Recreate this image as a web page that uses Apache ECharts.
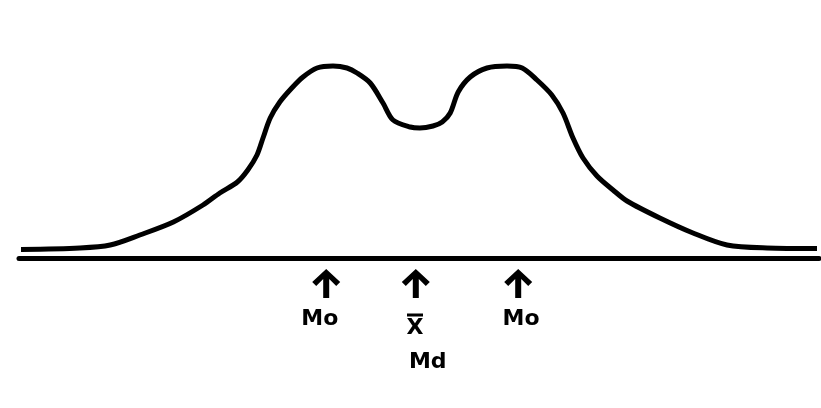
<!DOCTYPE html>
<html>
<head>
    <meta charset="utf-8">
    <title>Bimodal</title>
    <script src="https://cdn.jsdelivr.net/npm/echarts@6/dist/echarts.min.js"></script>
</head>
<style>
    *{
        margin: 0;
        padding: 0;
    }
    #main{
        width: 821px;
        height: 408px;
        background: #fff;
    }
</style>
<body>
<div id="main"></div>
<script>
    // curve: x along the scale, y = height of the curve
    let curveX = [0.25, 7.6, 11.4, 15.1, 19.3, 23, 25.1, 27.3, 28.6, 29.75, 30.5, 31.4, 32.6, 34.1, 35.5, 37.25, 39.25, 41, 42.25,
        43.9, 45.5, 46.75, 48.9, 50.1, 51.75, 52.9, 53.9, 54.9, 56.4, 58.5, 61, 62.9, 64.75, 66.6, 68, 69.25, 70.5,
        72.25, 74.25, 76, 80.1, 84.25, 88.5, 93.5, 99.75];
    let curveY = [4.25, 5, 6.5, 11.5, 18, 26.5, 32.5, 38, 44, 51.5, 60, 70, 78, 85, 90.5, 95, 96, 95, 92.5,
        87.5, 77.5, 69, 65.5, 65, 66, 68, 72.5, 83, 90.5, 95, 96, 95, 89, 81.5, 72.5, 60, 50,
        41, 34, 28.5, 20, 12.5, 6.5, 5, 4.75];

    // arrows under the axis
    let arrowX = [38.4, 49.6, 62.4];
    let arrowY = -12.75;

    // labels under the arrows
    let labelText = ['Mo', 'X', 'Md', 'Mo'];
    let labelX = [37.6, 49.5, 51.1, 62.75];
    let labelY = [-30.5, -35, -52, -30.5];

    // bar over the X
    let barX = [49.5];
    let barY = [-28.5];

    let chart = echarts.init(document.getElementById('main'));

    let arrowPath = 'path://M14 0 L28 13 L24 17 L17 10 L17 29 L11 29 L11 10 L4 17 L0 13 Z';

    let option = {
        backgroundColor: '#ffffff',
        animation: false,
        grid: {
            left: 19,
            right: 2,
            top: 58,
            bottom: 30
        },
        xAxis: {
            type: 'value',
            min: 0,
            max: 100,
            axisLine: {
                show: true,
                onZero: true,
                lineStyle: {color: '#000', width: 5}
            },
            axisTick: {show: false},
            axisLabel: {show: false},
            splitLine: {show: false}
        },
        yAxis: {
            type: 'value',
            min: -60,
            max: 100,
            show: false,
            splitLine: {show: false}
        },
        series: [
            {
                type: 'line',
                data: curveX.map((x, i) => [x, curveY[i]]),
                smooth: 0.3,
                showSymbol: false,
                lineStyle: {color: '#000', width: 5}
            },
            {
                type: 'scatter',
                data: arrowX.map(x => [x, arrowY]),
                symbol: arrowPath,
                symbolSize: [28, 29],
                itemStyle: {color: '#000', opacity: 1}
            },
            {
                type: 'scatter',
                data: barX.map((x, i) => [x, barY[i]]),
                symbol: 'rect',
                symbolSize: [16, 3],
                itemStyle: {color: '#000', opacity: 1}
            },
            {
                type: 'scatter',
                data: labelX.map((x, i) => ({name: labelText[i], value: [x, labelY[i]]})),
                symbolSize: 1,
                itemStyle: {color: 'transparent', opacity: 1},
                label: {
                    show: true,
                    position: 'inside',
                    formatter: p => p.name,
                    color: '#000',
                    fontFamily: 'DejaVu Sans',
                    fontWeight: 'bold',
                    fontSize: 22
                }
            }
        ]
    };
    chart.setOption(option);
</script>
</body>
</html>
